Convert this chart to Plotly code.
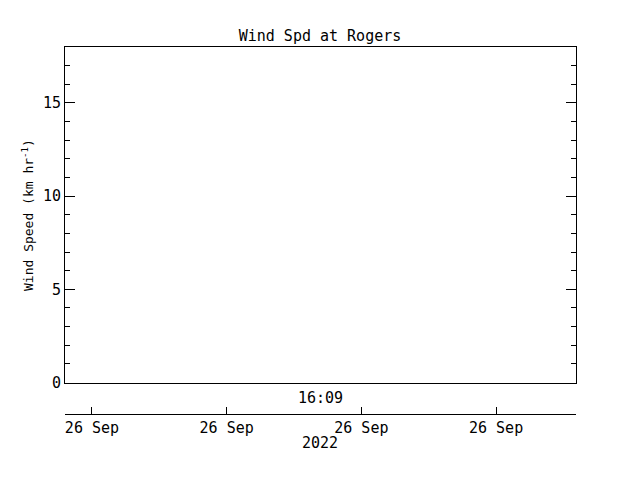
import plotly.graph_objects as go

# ---- data (chart is empty: no wind observations) ----
obs_times = []          # observation timestamps
wind_speed = []         # km/hr
tick_times = ["2022-09-26 16:08:00", "2022-09-26 16:09:00",
              "2022-09-26 16:10:00", "2022-09-26 16:11:00"]
time_range = ["2022-09-26 16:07:48", "2022-09-26 16:11:35.6"]
y_range = [0, 18]
title_text = "Wind Spd at Rogers"
ytitle_text = "Wind Speed (km hr<sup>-1</sup>)"
time_label = "16:09"
year_label = "2022"

W, H = 640, 480
L, R, T, B = 65, 64, 47, 66
plot_h = H - T - B
def py(px):
    return (H - B - px) / plot_h
def pxx(px):
    return (px - L) / (W - L - R)

FONT = "DejaVu Sans Mono"

fig = go.Figure()
# frame subplot (x / y)
fig.add_trace(go.Scatter(x=[], y=[], mode="lines", xaxis="x", yaxis="y",
                         showlegend=False, hoverinfo="skip"))
# wind-speed series on the time axis
fig.add_trace(go.Scatter(x=obs_times, y=wind_speed, mode="lines",
                         line=dict(color="black", width=1),
                         xaxis="x2", yaxis="y", showlegend=False))

fig.update_layout(
    width=W, height=H,
    margin=dict(l=L, r=R, t=T, b=B, pad=0, autoexpand=False),
    paper_bgcolor="white", plot_bgcolor="white",
    font=dict(family=FONT, size=15, color="black"),
    showlegend=False,
    title=dict(text=title_text, x=0.5, xanchor="center",
               y=1 - 36 / H, yanchor="middle", yref="container",
               font=dict(family=FONT, size=15, color="black")),
    xaxis=dict(range=[0, 1], anchor="y", showline=True, mirror=True,
               linecolor="black", linewidth=1, ticks="", showticklabels=False,
               showgrid=False, zeroline=False, automargin=False),
    xaxis2=dict(type="date", range=time_range, anchor="free", position=0,
                overlaying="x", side="bottom",
                tickvals=tick_times, tickformat="%d %b",
                ticks="inside", ticklen=7, tickcolor="black", tickwidth=1,
                showline=True, linecolor="black", linewidth=1,
                showgrid=False, zeroline=False, automargin=False,
                tickfont=dict(family=FONT, size=15, color="black")),
    yaxis=dict(range=y_range, domain=[py(382.5), 1], anchor="x",
               tick0=0, dtick=5, ticks="inside", ticklen=10,
               tickcolor="black", tickwidth=1,
               minor=dict(dtick=1, ticks="inside", ticklen=5,
                          tickcolor="black", tickwidth=1, showgrid=False),
               showline=True, mirror="ticks", linecolor="black", linewidth=1,
               showgrid=False, zeroline=False, automargin=False,
               tickfont=dict(family=FONT, size=15, color="black")),
    annotations=[
        dict(text=ytitle_text, xref="paper", yref="paper",
             x=pxx(28), y=py(215), xanchor="center", yanchor="middle",
             textangle=-90, showarrow=False,
             font=dict(family=FONT, size=13, color="black")),
        dict(text=time_label, xref="paper", yref="paper",
             x=pxx(320), y=py(397.5), xanchor="center", yanchor="middle",
             showarrow=False, font=dict(family=FONT, size=15, color="black")),
        dict(text=year_label, xref="paper", yref="paper",
             x=pxx(320), y=py(442.5), xanchor="center", yanchor="middle",
             showarrow=False, font=dict(family=FONT, size=15, color="black")),
    ],
)

fig.write_html("out.html",
               config={"displayModeBar": False},
               post_script="document.body.style.margin='0';")
